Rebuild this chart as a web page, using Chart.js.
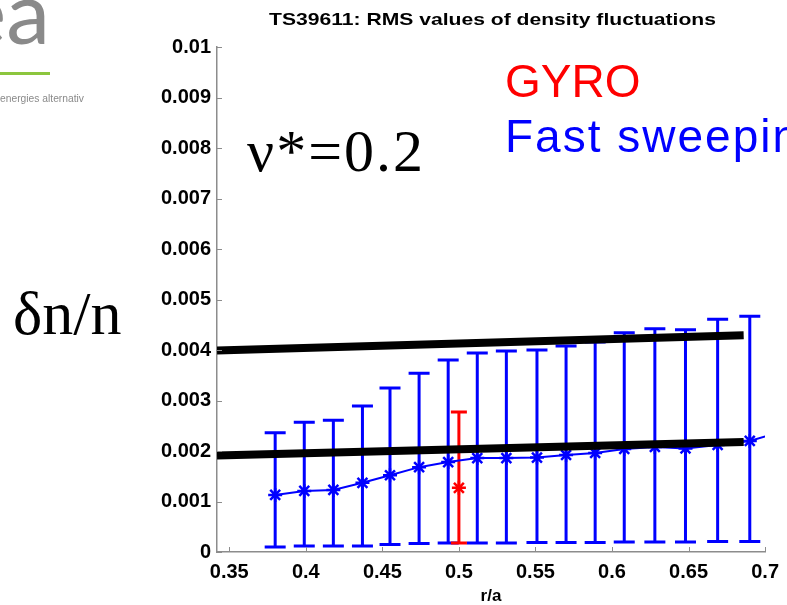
<!DOCTYPE html>
<html>
<head>
<meta charset="utf-8">
<script src="https://cdn.jsdelivr.net/npm/chart.js@4"></script>
<style>
html, body { margin: 0; padding: 0; background: #fff; }
#wrap { position: relative; width: 787px; height: 605px; }
</style>
</head>
<body>
<div id="wrap"><canvas id="myChart" width="787" height="605"></canvas></div>
<script>
// данные: fast sweeping reflectometry
const radius = [0.380, 0.399, 0.418, 0.437, 0.455, 0.474, 0.493, 0.512, 0.531, 0.551, 0.570, 0.589, 0.608, 0.628, 0.648, 0.669, 0.690, 0.700];
const sweepRms = [0.00113, 0.00121, 0.00123, 0.00137, 0.00152, 0.00168, 0.00178, 0.00186, 0.00186, 0.00187, 0.00192, 0.00196, 0.00204, 0.00208, 0.00205, 0.00212, 0.00220, 0.00229];
const sweepTop = [0.00236, 0.00257, 0.00261, 0.00289, 0.00325, 0.00354, 0.00380, 0.00394, 0.00398, 0.00400, 0.00408, 0.00416, 0.00434, 0.00442, 0.00440, 0.00461, 0.00467, null];
const sweepBottom = [0.00010, 0.00012, 0.00012, 0.00012, 0.00015, 0.00017, 0.00018, 0.00018, 0.00018, 0.00019, 0.00019, 0.00019, 0.00020, 0.00020, 0.00020, 0.00021, 0.00021, null];

// данные GYRO
const gyroRadius = [0.5];
const gyroRms = [0.00127];
const gyroTop = [0.00277];
const gyroBottom = [0.00018];

// две жирные черные линии
const bandX = [0.342, 0.686];
const bandUpper = [0.00399, 0.00429];
const bandLower = [0.00191, 0.00218];

// подписи осей
const xTicks = [0.35, 0.4, 0.45, 0.5, 0.55, 0.6, 0.65, 0.7];
const yTicks = [0, 0.001, 0.002, 0.003, 0.004, 0.005, 0.006, 0.007, 0.008, 0.009, 0.01];

Chart.defaults.font.family = "'Liberation Sans', Arial, sans-serif";

const toPoints = (xs, ys) => xs.map((x, i) => ({ x: x, y: ys[i] }));

function drawErrorBars(ctx, x, y, xs, tops, bottoms, color, width, capHalf) {
	ctx.save();
	ctx.strokeStyle = color;
	ctx.lineWidth = width;
	ctx.lineCap = "butt";
	xs.forEach((xv, i) => {
		if (tops[i] == null) return;
		const px = x.getPixelForValue(xv);
		const pt = y.getPixelForValue(tops[i]);
		const pb = y.getPixelForValue(bottoms[i]);
		ctx.beginPath();
		ctx.moveTo(px, pt);
		ctx.lineTo(px, pb);
		ctx.moveTo(px - capHalf, pt);
		ctx.lineTo(px + capHalf, pt);
		ctx.moveTo(px - capHalf, pb);
		ctx.lineTo(px + capHalf, pb);
		ctx.stroke();
	});
	ctx.restore();
}

const errorBarPlugin = {
	id: "errorBars",
	beforeDatasetsDraw(chart) {
		const { ctx, scales } = chart;
		drawErrorBars(ctx, scales.x, scales.y, radius, sweepTop, sweepBottom, "#0000ff", 3, 10.5);
		drawErrorBars(ctx, scales.x, scales.y, gyroRadius, gyroTop, gyroBottom, "#ff0000", 3, 8);
	},
};

// маленькие риски внутрь, как в matlab
const innerTicksPlugin = {
	id: "innerTicks",
	afterDraw(chart) {
		const { ctx, chartArea, scales } = chart;
		ctx.save();
		ctx.strokeStyle = "#8c8c8c";
		ctx.lineWidth = 1;
		xTicks.forEach((v) => {
			const px = Math.round(scales.x.getPixelForValue(v)) + 0.5;
			ctx.beginPath();
			ctx.moveTo(px, chartArea.bottom);
			ctx.lineTo(px, chartArea.bottom - 5);
			ctx.stroke();
		});
		yTicks.forEach((v) => {
			const py = Math.round(scales.y.getPixelForValue(v)) + 0.5;
			ctx.beginPath();
			ctx.moveTo(chartArea.left, py);
			ctx.lineTo(chartArea.left + 5, py);
			ctx.stroke();
		});
		ctx.restore();
	},
};

// текст, растянутый по ширине как на скане
function fillTextWidth(ctx, text, x, y, width) {
	const w = ctx.measureText(text).width;
	ctx.save();
	ctx.translate(x, y);
	ctx.scale(width / w, 1);
	ctx.fillText(text, 0, 0);
	ctx.restore();
}

// надписи на слайде
const slideTextPlugin = {
	id: "slideText",
	afterDraw(chart) {
		const ctx = chart.ctx;
		ctx.save();

		// логотип
		ctx.fillStyle = "#8a8a8a";
		ctx.font = "88px Lato";
		ctx.textAlign = "right";
		ctx.textBaseline = "alphabetic";
		ctx.fillText("ea", 50, 44);
		ctx.fillStyle = "#8cc63e";
		ctx.fillRect(0, 72, 50, 3);
		ctx.fillStyle = "#8a8a8a";
		ctx.font = "10px 'Liberation Sans'";
		ctx.textAlign = "left";
		fillTextWidth(ctx, "energies alternativ", 0, 102, 84);

		// заголовок
		ctx.fillStyle = "#000";
		ctx.font = "bold 17px 'Liberation Sans'";
		ctx.textAlign = "left";
		fillTextWidth(ctx, "TS39611: RMS values of density fluctuations", 269, 25, 447);

		// подпись оси x
		ctx.textAlign = "center";
		ctx.fillText("r/a", 491, 601);

		// легенда
		ctx.textAlign = "left";
		ctx.font = "46px 'Liberation Sans'";
		ctx.fillStyle = "#ff0000";
		ctx.fillText("GYRO", 505, 97);
		ctx.fillStyle = "#0000ff";
		ctx.letterSpacing = "2px";
		ctx.fillText("Fast sweeping", 505, 152);

		ctx.fillStyle = "#000";
		ctx.letterSpacing = "2px";
		ctx.font = "60px 'Liberation Serif'";
		ctx.fillText("\u03bd*=0.2", 247, 171);
		ctx.letterSpacing = "0px";
		ctx.font = "62px 'Liberation Serif'";
		ctx.fillText("\u03b4n/n", 13, 334);

		ctx.restore();
	},
};

const ctx = document.getElementById("myChart");

const config = {
	type: "scatter",
	data: {
		datasets: [
			{
				data: toPoints(bandX, bandUpper),
				showLine: true,
				borderColor: "#000",
				borderWidth: 8,
				borderCapStyle: "butt",
				pointRadius: 0,
			},
			{
				data: toPoints(bandX, bandLower),
				showLine: true,
				borderColor: "#000",
				borderWidth: 8,
				borderCapStyle: "butt",
				pointRadius: 0,
			},
			{
				data: toPoints(gyroRadius, gyroRms),
				borderColor: "#ff0000",
				pointStyle: "star",
				pointRadius: 7,
				pointBorderWidth: 2.5,
			},
			{
				data: toPoints(radius, sweepRms),
				showLine: true,
				borderColor: "#0000ff",
				borderWidth: 2,
				pointStyle: "star",
				pointRadius: radius.map((r, i) => (sweepTop[i] == null ? 0 : 7)),
				pointBorderWidth: 2.5,
			},
		],
	},
	options: {
		responsive: false,
		animation: false,
		layout: {
			padding: { top: 47, right: 19, bottom: 0, left: 0 },
		},
		plugins: {
			legend: { display: false },
			tooltip: { enabled: false },
		},
		scales: {
			x: {
				type: "linear",
				min: 0.342,
				max: 0.7,
				afterBuildTicks: (scale) => {
					scale.ticks = xTicks.map((v) => ({ value: v }));
				},
				afterFit: (scale) => {
					scale.height = 53;
				},
				grid: { display: true, drawOnChartArea: false, drawTicks: false },
				border: { color: "#8c8c8c", width: 1.5 },
				ticks: {
					padding: 8,
					color: "#000",
					font: { size: 20, weight: "bold" },
					maxRotation: 0,
					callback: (v) => String(+v.toFixed(2)),
				},
			},
			y: {
				min: 0,
				max: 0.01,
				afterBuildTicks: (scale) => {
					scale.ticks = yTicks.map((v) => ({ value: v }));
				},
				afterFit: (scale) => {
					scale.width = 217;
				},
				grid: { display: true, drawOnChartArea: false, drawTicks: false },
				border: { color: "#8c8c8c", width: 1.5 },
				ticks: {
					padding: 6,
					color: "#000",
					font: { size: 20, weight: "bold" },
					callback: (v) => String(+v.toFixed(3)),
				},
			},
		},
	},
	plugins: [errorBarPlugin, innerTicksPlugin, slideTextPlugin],
};

const chart = new Chart(ctx, config);
</script>
</body>
</html>
